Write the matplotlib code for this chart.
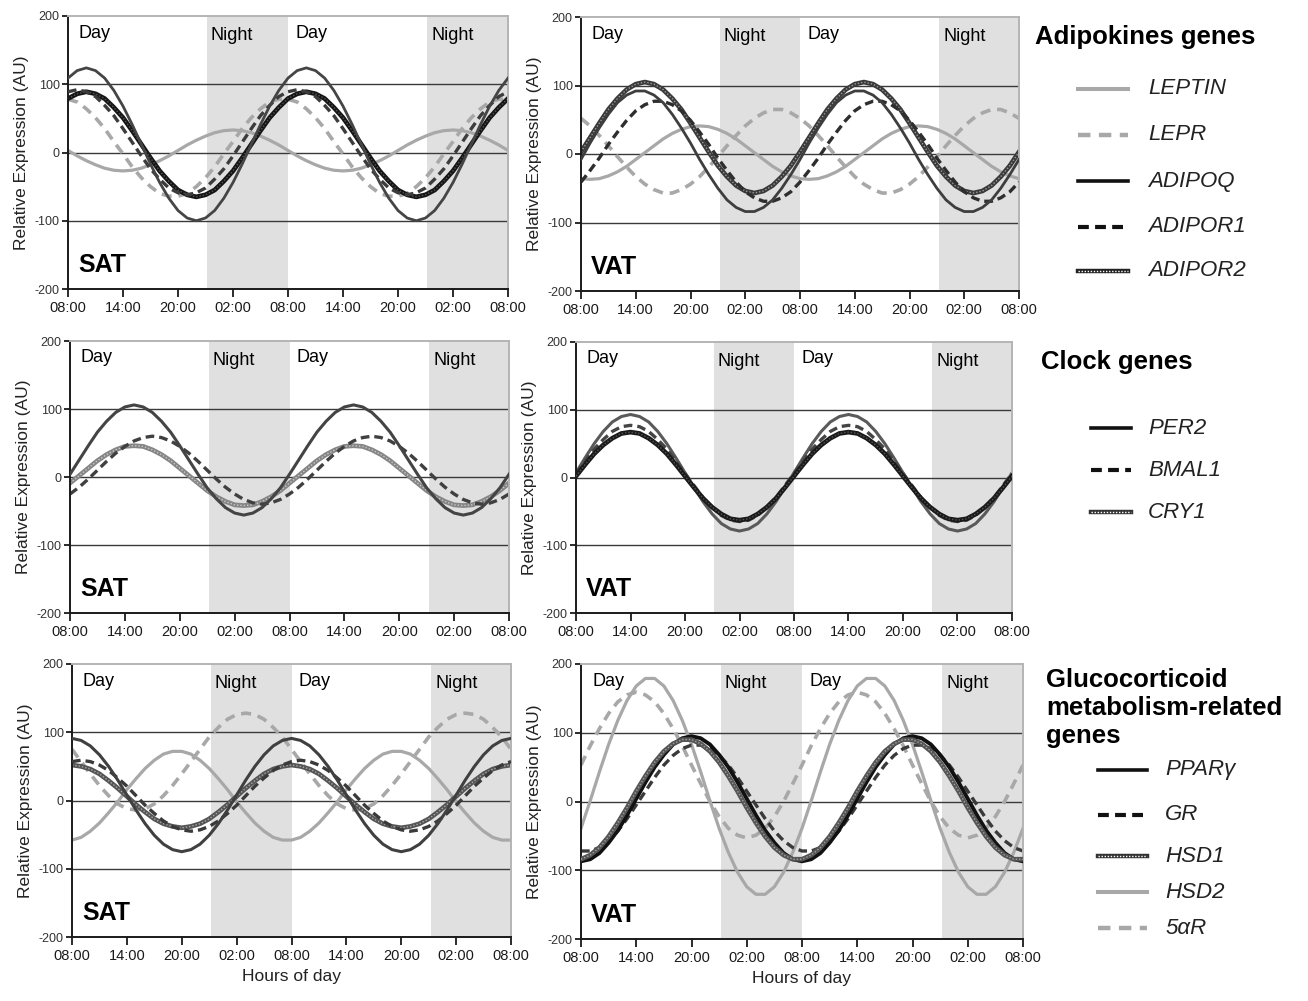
import matplotlib
matplotlib.use('Agg')
import matplotlib.pyplot as plt
from matplotlib.lines import Line2D

plt.rcParams['font.family'] = ['Liberation Sans', 'DejaVu Sans']

W, H = 1308, 1001

# ---------------- data (hours after 08:00, two days) ----------------
HOURS = [0, 1, 2, 3, 4, 5, 6, 7, 8, 9, 10, 11, 12, 13, 14, 15, 16, 17, 18, 19, 20, 21, 22, 23,
         24, 25, 26, 27, 28, 29, 30, 31, 32, 33, 34, 35, 36, 37, 38, 39, 40, 41, 42, 43, 44, 45,
         46, 47, 48]
TICK_POS = [0, 6, 12, 18, 24, 30, 36, 42, 48]
TICK_LABELS = ['08:00', '14:00', '20:00', '02:00', '08:00', '14:00', '20:00', '02:00', '08:00']
Y_TICKS = [-200, -100, 0, 100, 200]
NIGHTS = [(15.2, 24), (39.2, 48)]

# Adipokines, SAT
SAT_LEPTIN = [3, -5, -12, -18, -23, -26, -27, -26, -23, -18, -12, -5, 3, 11, 18, 24, 29, 32, 33, 32, 29, 24, 18, 11,
              3, -5, -12, -18, -23, -26, -27, -26, -23, -18, -12, -5, 3, 11, 18, 24, 29, 32, 33, 32, 29, 24, 18, 11,
              3]
SAT_LEPR = [78, 74, 64, 51, 35, 16, -2, -21, -37, -50, -60, -64, -64, -60, -50, -37, -21, -2, 16, 35, 51, 64, 74, 78,
            78, 74, 64, 51, 35, 16, -2, -21, -37, -50, -60, -64, -64, -60, -50, -37, -21, -2, 16, 35, 51, 64, 74, 78,
            78]
SAT_ADIPOQ = [109, 120, 124, 120, 109, 91, 68, 41, 12, -17, -44, -67, -85, -96, -100, -96, -85, -67, -44, -17, 12, 41, 68, 91,
              109, 120, 124, 120, 109, 91, 68, 41, 12, -17, -44, -67, -85, -96, -100, -96, -85, -67, -44, -17, 12, 41, 68, 91,
              109]
SAT_ADIPOR1 = [89, 92, 89, 82, 69, 54, 35, 15, -5, -24, -39, -52, -59, -62, -59, -52, -39, -24, -5, 15, 35, 54, 69, 82,
               89, 92, 89, 82, 69, 54, 35, 15, -5, -24, -39, -52, -59, -62, -59, -52, -39, -24, -5, 15, 35, 54, 69, 82,
               89]
SAT_ADIPOR2 = [79, 86, 89, 86, 79, 66, 51, 32, 12, -8, -27, -42, -55, -62, -65, -62, -55, -42, -27, -8, 12, 32, 51, 66,
               79, 86, 89, 86, 79, 66, 51, 32, 12, -8, -27, -42, -55, -62, -65, -62, -55, -42, -27, -8, 12, 32, 51, 66,
               79]

# Adipokines, VAT
VAT_LEPTIN = [-36, -37, -36, -32, -26, -18, -8, 2, 12, 22, 30, 36, 40, 41, 40, 36, 30, 22, 12, 2, -8, -18, -26, -32,
              -36, -37, -36, -32, -26, -18, -8, 2, 12, 22, 30, 36, 40, 41, 40, 36, 30, 22, 12, 2, -8, -18, -26, -32,
              -36]
VAT_LEPR = [52, 41, 27, 12, -4, -19, -33, -44, -52, -57, -57, -52, -44, -33, -19, -4, 12, 27, 41, 52, 60, 65, 65, 60,
            52, 41, 27, 12, -4, -19, -33, -44, -52, -57, -57, -52, -44, -33, -19, -4, 12, 27, 41, 52, 60, 65, 65, 60,
            52]
VAT_ADIPOQ = [-8, 16, 38, 58, 75, 86, 92, 92, 86, 75, 58, 38, 16, -8, -30, -50, -67, -78, -84, -84, -78, -67, -50, -30,
              -8, 16, 38, 58, 75, 86, 92, 92, 86, 75, 58, 38, 16, -8, -30, -50, -67, -78, -84, -84, -78, -67, -50, -30,
              -8]
VAT_ADIPOR1 = [-41, -24, -6, 14, 32, 49, 63, 72, 77, 77, 72, 63, 49, 32, 14, -6, -24, -41, -55, -64, -69, -69, -64, -55,
               -41, -24, -6, 14, 32, 49, 63, 72, 77, 77, 72, 63, 49, 32, 14, -6, -24, -41, -55, -64, -69, -69, -64, -55,
               -41]
VAT_ADIPOR2 = [3, 24, 45, 65, 81, 94, 102, 105, 102, 94, 81, 65, 45, 24, 3, -17, -33, -46, -54, -57, -54, -46, -33, -17,
               3, 24, 45, 65, 81, 94, 102, 105, 102, 94, 81, 65, 45, 24, 3, -17, -33, -46, -54, -57, -54, -46, -33, -17,
               3]

# Clock genes, SAT
SAT_PER2 = [4, 25, 46, 66, 82, 95, 103, 106, 103, 95, 82, 66, 46, 25, 4, -16, -32, -45, -53, -56, -53, -45, -32, -16,
            4, 25, 46, 66, 82, 95, 103, 106, 103, 95, 82, 66, 46, 25, 4, -16, -32, -45, -53, -56, -53, -45, -32, -16,
            4]
SAT_BMAL1 = [-25, -15, -3, 10, 23, 35, 45, 53, 58, 60, 58, 53, 45, 35, 23, 10, -3, -15, -25, -33, -38, -40, -38, -33,
             -25, -15, -3, 10, 23, 35, 45, 53, 58, 60, 58, 53, 45, 35, 23, 10, -3, -15, -25, -33, -38, -40, -38, -33,
             -25]
SAT_CRY1 = [-9, 2, 13, 24, 33, 40, 45, 46, 45, 40, 33, 24, 13, 2, -9, -20, -29, -36, -41, -42, -41, -36, -29, -20,
            -9, 2, 13, 24, 33, 40, 45, 46, 45, 40, 33, 24, 13, 2, -9, -20, -29, -36, -41, -42, -41, -36, -29, -20,
            -9]

# Clock genes, VAT
VAT_PER2 = [7, 29, 50, 68, 82, 90, 93, 90, 82, 68, 50, 29, 7, -15, -36, -54, -68, -76, -79, -76, -68, -54, -36, -15,
            7, 29, 50, 68, 82, 90, 93, 90, 82, 68, 50, 29, 7, -15, -36, -54, -68, -76, -79, -76, -68, -54, -36, -15,
            7]
VAT_BMAL1 = [6, 24, 42, 56, 68, 75, 77, 75, 68, 56, 42, 24, 6, -12, -30, -44, -56, -63, -65, -63, -56, -44, -30, -12,
             6, 24, 42, 56, 68, 75, 77, 75, 68, 56, 42, 24, 6, -12, -30, -44, -56, -63, -65, -63, -56, -44, -30, -12,
             6]
VAT_CRY1 = [2, 19, 35, 48, 58, 65, 67, 65, 58, 48, 35, 19, 2, -15, -31, -44, -54, -61, -63, -61, -54, -44, -31, -15,
            2, 19, 35, 48, 58, 65, 67, 65, 58, 48, 35, 19, 2, -15, -31, -44, -54, -61, -63, -61, -54, -44, -31, -15,
            2]

# Glucocorticoid metabolism-related genes, SAT
SAT_PPARG = [91, 88, 80, 67, 50, 30, 8, -14, -34, -51, -64, -72, -75, -72, -64, -51, -34, -14, 8, 30, 50, 67, 80, 88,
             91, 88, 80, 67, 50, 30, 8, -14, -34, -51, -64, -72, -75, -72, -64, -51, -34, -14, 8, 30, 50, 67, 80, 88,
             91]
SAT_GR = [57, 59, 57, 52, 44, 33, 21, 7, -7, -19, -30, -38, -43, -45, -43, -38, -30, -19, -7, 7, 21, 33, 44, 52,
          57, 59, 57, 52, 44, 33, 21, 7, -7, -19, -30, -38, -43, -45, -43, -38, -30, -19, -7, 7, 21, 33, 44, 52,
          57]
SAT_HSD1 = [52, 50, 46, 39, 29, 18, 6, -6, -17, -27, -34, -38, -40, -38, -34, -27, -17, -6, 6, 18, 29, 39, 46, 50,
            52, 50, 46, 39, 29, 18, 6, -6, -17, -27, -34, -38, -40, -38, -34, -27, -17, -6, 6, 18, 29, 39, 46, 50,
            52]
SAT_HSD2 = [-58, -54, -45, -33, -18, -2, 16, 32, 47, 59, 68, 72, 72, 68, 59, 47, 32, 16, -2, -18, -33, -45, -54, -58,
            -58, -54, -45, -33, -18, -2, 16, 32, 47, 59, 68, 72, 72, 68, 59, 47, 32, 16, -2, -18, -33, -45, -54, -58,
            -58]
SAT_5AR = [75, 57, 39, 22, 7, -5, -12, -14, -12, -5, 7, 22, 39, 57, 75, 93, 107, 119, 126, 128, 126, 119, 107, 93,
           75, 57, 39, 22, 7, -5, -12, -14, -12, -5, 7, 22, 39, 57, 75, 93, 107, 119, 126, 128, 126, 119, 107, 93,
           75]

# Glucocorticoid metabolism-related genes, VAT
VAT_PPARG = [-87, -84, -75, -60, -42, -20, 4, 28, 50, 68, 83, 92, 95, 92, 83, 68, 50, 28, 4, -20, -42, -60, -75, -84,
             -87, -84, -75, -60, -42, -20, 4, 28, 50, 68, 83, 92, 95, 92, 83, 68, 50, 28, 4, -20, -42, -60, -75, -84,
             -87]
VAT_GR = [-72, -72, -67, -57, -43, -25, -5, 15, 35, 53, 67, 77, 82, 82, 77, 67, 53, 35, 15, -5, -25, -43, -57, -67,
          -72, -72, -67, -57, -43, -25, -5, 15, 35, 53, 67, 77, 82, 82, 77, 67, 53, 35, 15, -5, -25, -43, -57, -67,
          -72]
VAT_HSD1 = [-84, -78, -67, -51, -31, -9, 15, 37, 57, 73, 84, 90, 90, 84, 73, 57, 37, 15, -9, -31, -51, -67, -78, -84,
            -84, -78, -67, -51, -31, -9, 15, 37, 57, 73, 84, 90, 90, 84, 73, 57, 37, 15, -9, -31, -51, -67, -78, -84,
            -84]
VAT_HSD2 = [-39, 1, 43, 83, 118, 147, 168, 179, 179, 168, 147, 118, 83, 43, 1, -39, -74, -103, -124, -135, -135, -124, -103, -74,
            -39, 1, 43, 83, 118, 147, 168, 179, 179, 168, 147, 118, 83, 43, 1, -39, -74, -103, -124, -135, -135, -124, -103, -74,
            -39]
VAT_5AR = [53, 81, 106, 128, 145, 155, 159, 155, 145, 128, 106, 81, 53, 26, 0, -22, -39, -49, -53, -49, -39, -22, 0, 26,
           53, 81, 106, 128, 145, 155, 159, 155, 145, 128, 106, 81, 53, 26, 0, -22, -39, -49, -53, -49, -39, -22, 0, 26,
           53]

# ---------------- styles ----------------
LIGHT = '#a8a8a8'
DARK = '#454545'


def st_light_solid():
    return dict(kind='line', color=LIGHT, lw=2.3, ls='-')


def st_light_dash():
    return dict(kind='line', color=LIGHT, lw=2.6, ls=(0, (2.8, 1.9)))


def st_dark_solid(c=DARK, lw=2.0):
    return dict(kind='line', color=c, lw=lw, ls='-')


def st_dark_dash(c='#3c3c3c'):
    return dict(kind='line', color=c, lw=2.4, ls=(0, (2.6, 1.5)))


def st_texture(base, over):
    return dict(kind='tex', base=base, over=over)


def draw_series(ax, y, s, z):
    if s['kind'] == 'line':
        ax.plot(HOURS, y, color=s['color'], lw=s['lw'], ls=s['ls'], zorder=z,
                solid_joinstyle='round')
    else:
        ax.plot(HOURS, y, color=s['base'], lw=3.4, zorder=z, solid_joinstyle='round')
        ax.plot(HOURS, y, color=s['over'], lw=1.0, ls=(0, (1.0, 1.4)), zorder=z + 0.1)


fig = plt.figure(figsize=(W / 100, H / 100), dpi=100)


def make_axes(l, t, r, b):
    return fig.add_axes([l / W, 1 - b / H, (r - l) / W, (b - t) / H])


def style_axes(ax, tissue, xlabel=False):
    ax.set_xlim(0, 48)
    ax.set_ylim(-200, 200)
    for a, b in NIGHTS:
        ax.axvspan(a, b, color='#e0e0e0', lw=0, zorder=0)
    for yv in (-100, 0, 100):
        ax.axhline(yv, color='#3a3a3a', lw=1.0, zorder=1)
    ax.set_xticks(TICK_POS)
    ax.set_xticklabels(TICK_LABELS)
    ax.set_yticks(Y_TICKS)
    ax.set_yticklabels([str(v) for v in Y_TICKS])
    ax.tick_params(axis='x', direction='out', length=6, width=1.3, labelsize=10.5,
                   pad=3, colors='#1a1a1a')
    ax.tick_params(axis='y', direction='out', length=4, width=1.3, labelsize=9,
                   pad=2, colors='#1a1a1a', labelcolor='#333333')
    for sp in ('left', 'bottom'):
        ax.spines[sp].set_color('#1a1a1a')
        ax.spines[sp].set_linewidth(1.4)
    for sp in ('top', 'right'):
        ax.spines[sp].set_color('#b4b4b4')
        ax.spines[sp].set_linewidth(1.4)
    ax.set_ylabel('Relative Expression (AU)', fontsize=12.5, color='#222222', labelpad=4)
    if xlabel:
        ax.set_xlabel('Hours of day', fontsize=12.5, color='#222222', labelpad=4)
    ax.text(1.2, 175, 'Day', fontsize=13, va='center', ha='left', zorder=5)
    ax.text(15.6, 171, 'Night', fontsize=13, va='center', ha='left', zorder=5)
    ax.text(24.8, 175, 'Day', fontsize=13, va='center', ha='left', zorder=5)
    ax.text(39.7, 171, 'Night', fontsize=13, va='center', ha='left', zorder=5)
    ax.text(1.1, -165, tissue, fontsize=18, fontweight='bold', va='center', ha='left', zorder=5)


# ---- Panel 1: SAT adipokines
ax = make_axes(68, 16, 508, 289)
style_axes(ax, 'SAT')
draw_series(ax, SAT_LEPTIN, st_light_solid(), 2)
draw_series(ax, SAT_LEPR, st_light_dash(), 2.2)
draw_series(ax, SAT_ADIPOR2, st_texture('#151515', '#555555'), 2.4)
draw_series(ax, SAT_ADIPOR1, st_dark_dash(), 2.6)
draw_series(ax, SAT_ADIPOQ, st_dark_solid(), 2.8)

# ---- Panel 2: VAT adipokines
ax = make_axes(581, 17, 1019, 291)
style_axes(ax, 'VAT')
draw_series(ax, VAT_LEPTIN, st_light_solid(), 2)
draw_series(ax, VAT_LEPR, st_light_dash(), 2.2)
draw_series(ax, VAT_ADIPOR2, st_texture('#3a3a3a', '#9a9a9a'), 2.4)
draw_series(ax, VAT_ADIPOR1, st_dark_dash('#2e2e2e'), 2.6)
draw_series(ax, VAT_ADIPOQ, st_dark_solid('#3e3e3e'), 2.8)

# ---- Panel 3: SAT clock
ax = make_axes(70, 341, 509, 613)
style_axes(ax, 'SAT')
draw_series(ax, SAT_CRY1, st_texture('#858585', '#c8c8c8'), 2.2)
draw_series(ax, SAT_BMAL1, st_dark_dash('#404040'), 2.4)
draw_series(ax, SAT_PER2, st_dark_solid('#444444', 2.2), 2.6)

# ---- Panel 4: VAT clock
ax = make_axes(576, 342, 1012, 613)
style_axes(ax, 'VAT')
draw_series(ax, VAT_PER2, st_dark_solid('#5a5a5a', 2.2), 2.2)
draw_series(ax, VAT_BMAL1, st_dark_dash('#444444'), 2.4)
draw_series(ax, VAT_CRY1, st_texture('#1a1a1a', '#555555'), 2.6)

# ---- Panel 5: SAT glucocorticoid
ax = make_axes(72, 664, 511, 937)
style_axes(ax, 'SAT', xlabel=True)
draw_series(ax, SAT_HSD2, st_light_solid(), 2)
draw_series(ax, SAT_5AR, st_light_dash(), 2.2)
draw_series(ax, SAT_HSD1, st_texture('#555555', '#a8a8a8'), 2.4)
draw_series(ax, SAT_GR, st_dark_dash('#3a3a3a'), 2.6)
draw_series(ax, SAT_PPARG, st_dark_solid('#404040', 2.2), 2.8)

# ---- Panel 6: VAT glucocorticoid
ax = make_axes(581, 664, 1023, 939)
style_axes(ax, 'VAT', xlabel=True)
draw_series(ax, VAT_HSD2, st_light_solid(), 2)
draw_series(ax, VAT_5AR, st_light_dash(), 2.2)
draw_series(ax, VAT_GR, st_dark_dash('#3a3a3a'), 2.4)
draw_series(ax, VAT_PPARG, st_dark_solid('#111111', 2.8), 2.6)
draw_series(ax, VAT_HSD1, st_texture('#555555', '#a0a0a0'), 2.8)


# ---------------- legends ----------------
def fx(x):
    return x / W


def fy(y):
    return 1 - y / H


def legend_item(x0, x1, xt, y, s, label):
    if s['kind'] == 'line':
        fig.add_artist(Line2D([fx(x0), fx(x1)], [fy(y), fy(y)], transform=fig.transFigure,
                              color=s['color'], lw=s['lw'] + 0.6, ls=s['ls']))
    else:
        fig.add_artist(Line2D([fx(x0), fx(x1)], [fy(y), fy(y)], transform=fig.transFigure,
                              color=s['base'], lw=3.2))
        fig.add_artist(Line2D([fx(x0), fx(x1)], [fy(y), fy(y)], transform=fig.transFigure,
                              color='#ffffff', lw=1.0, ls=(0, (1.0, 1.2))))
    fig.text(fx(xt), fy(y), label, fontsize=16, fontstyle='italic', va='center', ha='left',
             color='#222222')


fig.text(fx(1035), fy(37), 'Adipokines genes', fontsize=18.5, fontweight='bold',
         va='center', ha='left')
legend_item(1078, 1128, 1148, 89, st_light_solid(), 'LEPTIN')
legend_item(1078, 1128, 1148, 135, st_light_dash(), 'LEPR')
legend_item(1078, 1128, 1148, 181, st_dark_solid('#111111'), 'ADIPOQ')
legend_item(1078, 1128, 1148, 227, st_dark_dash('#111111'), 'ADIPOR1')
legend_item(1078, 1128, 1148, 271, st_texture('#222222', '#ffffff'), 'ADIPOR2')

fig.text(fx(1041), fy(362), 'Clock genes', fontsize=18.5, fontweight='bold',
         va='center', ha='left')
legend_item(1091, 1131, 1148, 428, st_dark_solid('#111111'), 'PER2')
legend_item(1091, 1131, 1148, 470, st_dark_dash('#111111'), 'BMAL1')
legend_item(1091, 1131, 1148, 512, st_texture('#333333', '#ffffff'), 'CRY1')

fig.text(fx(1046), fy(668), 'Glucocorticoid\nmetabolism-related\ngenes', fontsize=18.5,
         fontweight='bold', va='top', ha='left', linespacing=1.22)
legend_item(1098, 1147, 1165, 770, st_dark_solid('#111111'), 'PPARγ')
legend_item(1098, 1147, 1165, 815, st_dark_dash('#111111'), 'GR')
legend_item(1098, 1147, 1165, 856, st_texture('#333333', '#ffffff'), 'HSD1')
legend_item(1098, 1147, 1165, 892, st_light_solid(), 'HSD2')
legend_item(1098, 1147, 1165, 928, st_light_dash(), '5αR')

fig.savefig('out.png', dpi=100)
